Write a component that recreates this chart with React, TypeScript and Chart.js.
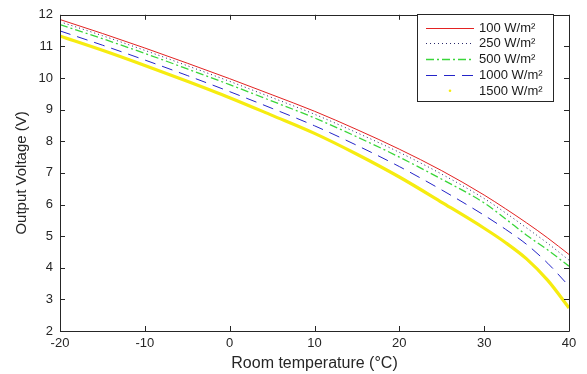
import React, { useEffect, useRef } from "react";
import { Chart, registerables } from "chart.js";

Chart.register(...registerables);

const temps = [-20, -15, -10, -5, 0, 5, 10, 15, 20, 25, 30, 32.5, 35, 37.5, 40];
const v100 = [11.85, 11.41, 10.95, 10.47, 9.98, 9.47, 8.95, 8.37, 7.75, 7.07, 6.3, 5.87, 5.42, 4.94, 4.42];
const v250 = [11.78, 11.34, 10.875, 10.39, 9.895, 9.38, 8.855, 8.27, 7.65, 6.96, 6.19, 5.74, 5.26, 4.77, 4.24];
const v500 = [11.69, 11.245, 10.78, 10.29, 9.79, 9.27, 8.74, 8.14, 7.5, 6.8, 6.05, 5.55, 5.03, 4.56, 4.05];
const v1000 = [11.49, 11.04, 10.57, 10.08, 9.57, 9.04, 8.49, 7.87, 7.2, 6.46, 5.66, 5.22, 4.74, 4.14, 3.42];
const v1500 = [11.33, 10.88, 10.4, 9.9, 9.38, 8.82, 8.25, 7.59, 6.87, 6.07, 5.25, 4.8, 4.28, 3.6, 2.73];
const seriesLabels = ["100 W/m²", "250 W/m²", "500 W/m²", "1000 W/m²", "1500 W/m²"];

const FONT = "'Liberation Sans', Arial, Helvetica, sans-serif";
const AXIS_COLOR = "#262626";

const styles = [
  { color: "#e32222", width: 1, dash: [] as number[] },
  { color: "#2a2a6a", width: 1, dash: [1, 3] },
  { color: "#3ad63a", width: 1.3, dash: [8, 3, 2, 3] },
  { color: "#2424c8", width: 1, dash: [11, 7] },
  { color: "#f6ec10", width: 3.2, dash: [] as number[] },
];

const boxPlugin = {
  id: "boxPlugin",
  afterDatasetsDraw(chart: any) {
    const { ctx, chartArea: a, scales } = chart;
    const x = scales.x;
    const y = scales.y;
    ctx.save();
    ctx.strokeStyle = AXIS_COLOR;
    ctx.lineWidth = 1;
    ctx.beginPath();
    ctx.rect(Math.round(a.left) + 0.5, Math.round(a.top) + 0.5, Math.round(a.right - a.left), Math.round(a.bottom - a.top));
    ctx.stroke();
    const tl = 5;
    ctx.beginPath();
    x.ticks.forEach((t: any) => {
      const px = Math.round(x.getPixelForValue(t.value)) + 0.5;
      ctx.moveTo(px, a.bottom);
      ctx.lineTo(px, a.bottom - tl);
      ctx.moveTo(px, a.top);
      ctx.lineTo(px, a.top + tl);
    });
    y.ticks.forEach((t: any) => {
      const py = Math.round(y.getPixelForValue(t.value)) + 0.5;
      ctx.moveTo(a.left, py);
      ctx.lineTo(a.left + tl, py);
      ctx.moveTo(a.right, py);
      ctx.lineTo(a.right - tl, py);
    });
    ctx.stroke();
    ctx.restore();
  },
  afterDraw(chart: any) {
    const { ctx } = chart;
    const bx = 417.5;
    const by = 14.5;
    const bw = 136;
    const bh = 87;
    ctx.save();
    ctx.fillStyle = "#ffffff";
    ctx.fillRect(bx, by, bw, bh);
    ctx.strokeStyle = AXIS_COLOR;
    ctx.lineWidth = 1;
    ctx.strokeRect(bx, by, bw, bh);
    ctx.font = `13px ${FONT}`;
    ctx.textBaseline = "middle";
    ctx.textAlign = "left";
    chart.data.datasets.forEach((ds: any, i: number) => {
      const ry = by + 13 + i * 15.8;
      const st = styles[i];
      ctx.strokeStyle = st.color;
      ctx.fillStyle = st.color;
      if (i === 4) {
        ctx.beginPath();
        ctx.arc(450, ry, 1.3, 0, Math.PI * 2);
        ctx.fill();
      } else {
        ctx.lineWidth = st.width;
        ctx.setLineDash(st.dash);
        ctx.beginPath();
        ctx.moveTo(426, Math.round(ry) + 0.5);
        ctx.lineTo(474, Math.round(ry) + 0.5);
        ctx.stroke();
        ctx.setLineDash([]);
      }
      ctx.fillStyle = "#1a1a1a";
      ctx.fillText(ds.label, 479, ry + 0.5);
    });
    ctx.restore();
  },
};

export default function App() {
  const ref = useRef<HTMLCanvasElement | null>(null);
  useEffect(() => {
    document.body.style.margin = "0";
    const data = [v100, v250, v500, v1000, v1500];
    const chart = new Chart(ref.current!, {
      type: "line",
      data: {
        datasets: data.map((vals, i) => ({
          label: seriesLabels[i],
          data: temps.map((t, j) => ({ x: t, y: vals[j] })),
          borderColor: styles[i].color,
          backgroundColor: styles[i].color,
          borderWidth: styles[i].width,
          borderDash: styles[i].dash,
          pointRadius: 0,
          fill: false,
          cubicInterpolationMode: "monotone" as const,
        })),
      },
      options: {
        animation: false,
        responsive: true,
        maintainAspectRatio: false,
        layout: { padding: { left: 0, right: 18, top: 5, bottom: 0 } },
        plugins: { legend: { display: false }, tooltip: { enabled: false } },
        scales: {
          x: {
            type: "linear",
            min: -20,
            max: 40,
            grid: { display: false, drawTicks: false },
            border: { display: false },
            ticks: { stepSize: 10, padding: 5, color: AXIS_COLOR, font: { family: FONT, size: 13 } },
            title: { display: true, text: "Room temperature (°C)", color: AXIS_COLOR, font: { family: FONT, size: 16 }, padding: { top: 0, bottom: 1 } },
            afterFit: (s: any) => { s.height = 43; },
          },
          y: {
            type: "linear",
            min: 2,
            max: 12,
            grid: { display: false, drawTicks: false },
            border: { display: false },
            ticks: { stepSize: 1, padding: 7, color: AXIS_COLOR, font: { family: FONT, size: 13 } },
            title: { display: true, text: "Output Voltage (V)", color: AXIS_COLOR, font: { family: FONT, size: 15 }, padding: { top: 13, bottom: 0 } },
            afterFit: (s: any) => { s.width = 60; },
          },
        },
      },
      plugins: [boxPlugin],
    });
    return () => chart.destroy();
  }, []);
  return (
    <div style={{ position: "relative", width: 587, height: 374 }}>
      <canvas ref={ref} />
    </div>
  );
}
